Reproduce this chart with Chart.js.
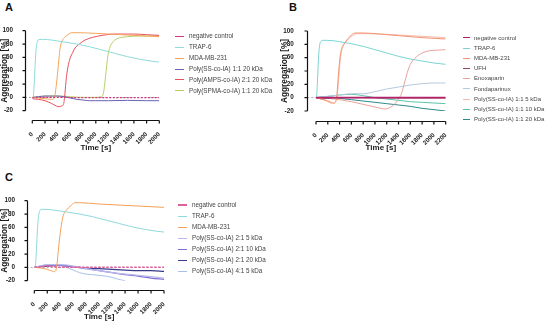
<!DOCTYPE html>
<html>
<head>
<meta charset="utf-8">
<script src="https://cdn.jsdelivr.net/npm/chart.js@4.4.1/dist/chart.umd.min.js"></script>
<style>
html, body { margin: 0; padding: 0; background: #fff; }
body { width: 546px; height: 322px; position: relative; overflow: hidden; font-family: "Liberation Sans", Arial, sans-serif; }
canvas { position: absolute; }
.letter { position: absolute; font-weight: bold; font-size: 11px; color: #111; line-height: 12px; }
.legend-row { position: absolute; white-space: nowrap; font-size: 6.3px; line-height: 8px; height: 8px; color: #444; }
.legend-row .sw { display: inline-block; vertical-align: middle; }
</style>
</head>
<body>
<div class="letter" style="left:5px;top:1px">A</div>
<div class="letter" style="left:289px;top:1px">B</div>
<div class="letter" style="left:5px;top:171px">C</div>
<canvas id="chartA" width="273" height="160" style="left:0;top:0"></canvas>
<canvas id="chartB" width="273" height="160" style="left:273px;top:0"></canvas>
<canvas id="chartC" width="273" height="162" style="left:0;top:160px"></canvas>
<script>
// ---- tick labels ----
const yTicks = [-20, 0, 20, 40, 60, 80, 100];
const xStep = 200;

// ---- Panel A ----
const a_neg_t = [0, 200, 400, 800, 1200, 1600, 2000];
const a_neg_y = [-0.5, 0, 0, -0.5, -0.5, -0.5, -0.5];
const a_trap_t = [0, 15, 30, 45, 60, 75, 90, 120, 180, 300, 500, 700, 900, 1100, 1300, 1500, 1700, 1900, 2000];
const a_trap_y = [0, 1, 20, 50, 72, 82, 86, 87, 87, 86, 83, 80, 76, 71, 66, 61, 57, 54, 53];
const a_mda_t = [0, 100, 200, 300, 340, 360, 380, 400, 420, 440, 470, 510, 560, 620, 700, 1000, 1400, 1800, 2000];
const a_mda_y = [0, -1, -2, -3, -2, 5, 20, 38, 58, 75, 85, 90, 94, 97, 97, 96, 94, 92, 91];
const a_ss_t = [0, 100, 200, 300, 400, 500, 600, 700, 800, 900, 1000, 1200, 1500, 1800, 2000];
const a_ss_y = [0, 1, 2, 2, 2, 1, -1, -3, -4, -5, -5, -5, -4.5, -5, -5];
const a_amps_t = [0, 100, 200, 300, 380, 420, 460, 490, 510, 525, 541, 560, 593, 640, 672, 740, 830, 950, 1100, 1300, 1600, 1800, 2000];
const a_amps_y = [-2, -3, -5, -9, -13, -14, -13, -11, 2, 18, 33, 45, 58, 68, 74, 80, 86, 90, 93, 95, 95, 94, 93];
const a_spma_t = [0, 200, 400, 600, 800, 1000, 1080, 1110, 1130, 1155, 1180, 1200, 1230, 1260, 1300, 1360, 1500, 1700, 2000];
const a_spma_y = [0, 2, 2, 1, 0, 0, 1, 3, 12, 33, 55, 68, 77, 82, 86, 89, 91, 92, 92];

// ---- Panel B ----
const b_neg_t = [0, 400, 800, 1200, 1600, 2000, 2200];
const b_neg_y = [0, 0, 0, 0, 0, 0, 0];
const b_trap_t = [0, 10, 25, 40, 55, 70, 90, 120, 200, 400, 600, 800, 1000, 1200, 1400, 1600, 1800, 2000, 2200];
const b_trap_y = [0, 2, 25, 55, 74, 82, 85, 86, 86, 84, 81, 77, 72, 67, 62, 58, 55, 52, 50];
const b_mda_t = [0, 100, 200, 260, 300, 330, 350, 370, 390, 410, 436, 470, 510, 548, 600, 662, 800, 1000, 1400, 1800, 2200];
const b_mda_y = [0, -2, -5, -7, -8, -6, 0, 22, 45, 62, 74, 80, 85, 89, 94, 97, 97, 96, 93, 90, 88];
const b_ufh_t = [0, 100, 200, 400, 800, 1200, 1600, 2000, 2200];
const b_ufh_y = [0, -2, -1, 0, 0, -0.5, -0.5, -0.5, -0.5];
const b_enox_t = [0, 200, 400, 600, 800, 1000, 1100, 1170, 1250, 1330, 1400, 1450, 1500, 1550, 1600, 1700, 1800, 1900, 2000, 2200];
const b_enox_y = [0, -1, -3, -6, -10, -14, -16, -17, -15, -10, -2, 6, 22, 38, 50, 61, 67, 70, 71, 72];
const b_fonda_t = [0, 200, 400, 600, 800, 1000, 1200, 1400, 1600, 1800, 2000, 2200];
const b_fonda_y = [0, 2, 4, 6, 6, 9, 13, 16, 19, 21, 22, 22];
const b_ss5_t = [0, 100, 200, 280, 320, 350, 370, 390, 410, 430, 460, 500, 550, 620, 700, 900, 1200, 1600, 2000, 2200];
const b_ss5_y = [0, -2, -6, -9, -8, -2, 12, 35, 55, 68, 77, 83, 88, 93, 96, 96, 95, 93, 91, 90];
const b_ss10_t = [0, 200, 400, 600, 800, 1000, 1200, 1400, 1600, 1800, 2000, 2200];
const b_ss10_y = [0, 2, 4, 5, 3, 0, -2, -4, -6, -7, -8, -9];
const b_ss20_t = [0, 200, 400, 600, 800, 1000, 1200, 1400, 1600, 1800, 2000, 2200];
const b_ss20_y = [0, 1, -1, -3, -5, -7, -9, -11, -13, -16, -18, -20];

// ---- Panel C ----
const c_neg_t = [0, 100, 200, 300, 400, 800, 1200, 1600, 2000];
const c_neg_y = [0, 1, 2, 1, 0, 0, 0, 0, 0];
const c_trap_t = [0, 15, 30, 45, 60, 75, 90, 120, 180, 300, 500, 700, 900, 1100, 1300, 1500, 1700, 1900, 2000];
const c_trap_y = [0, 1, 20, 50, 72, 82, 86, 87, 87, 86, 83, 80, 76, 71, 66, 61, 57, 54, 53];
const c_mda_t = [0, 100, 200, 260, 300, 330, 350, 370, 396, 420, 447, 480, 524, 580, 627, 700, 1000, 1400, 1800, 2000];
const c_mda_y = [0, -1, -3, -5, -6.5, -5, 5, 25, 48, 65, 78, 84, 89, 94, 97, 97, 95, 93, 91, 90];
const c_s5_t = [0, 100, 200, 400, 600, 800, 1000, 1200, 1400, 1600, 1800, 2000];
const c_s5_y = [0, 2, 4, 4, 2, -2, -5, -8, -10, -12, -14, -16];
const c_s10_t = [0, 200, 400, 600, 800, 1000, 1200, 1400, 1600, 1800, 2000];
const c_s10_y = [0, 3, 3, 1, -2, -5, -8, -11, -13, -16, -18];
const c_s20_t = [0, 200, 400, 600, 800, 1000, 1200, 1400, 1600, 1800, 2000];
const c_s20_y = [0, 2, 3, 1, -1, -2, -3, -4, -5, -5, -6];
const c_s41_t = [0, 100, 200, 300, 400, 500, 600, 700, 800, 900, 1000, 1100, 1200, 1300, 1400];
const c_s41_y = [0, 2, 4, 4, 3, 0, -4, -8, -10, -11, -12, -13, -15, -18, -20];

const tickFont = { family: 'Liberation Sans', size: 6.3, weight: 'bold' };
const titleFont = { family: 'Liberation Sans', size: 8, weight: 'bold' };
const yTitleFont = { family: 'Liberation Sans', size: 8.3, weight: 'bold' };

function pts(t, y) {
    return t.map((v, i) => ({ x: v, y: y[i] }));
}

function series(label, t, y, color, extra) {
    return Object.assign({
        label: label,
        data: pts(t, y),
        borderColor: color,
        backgroundColor: color,
        borderWidth: 1,
        pointRadius: 0,
        cubicInterpolationMode: 'monotone',
        fill: false,
    }, extra || {});
}

// draws the offset Prism-style axes (lines + tick marks) and the zero baseline
const offsetAxes = {
    id: 'offsetAxes',
    beforeDatasetsDraw(chart, args, opts) {
        const { ctx, scales: { x, y } } = chart;
        const ax = x.getPixelForValue(0) - opts.gapX;
        const y0 = y.getPixelForValue(0);
        ctx.save();
        ctx.strokeStyle = '#999';
        ctx.lineWidth = 0.8;
        ctx.setLineDash([2, 2]);
        ctx.beginPath();
        ctx.moveTo(ax, y0);
        ctx.lineTo(x.getPixelForValue(x.max), y0);
        ctx.stroke();
        ctx.restore();
    },
    afterDraw(chart, args, opts) {
        const { ctx, scales: { x, y } } = chart;
        const ax = Math.round(x.getPixelForValue(0) - opts.gapX) + 0.5;
        const ay = Math.round(y.getPixelForValue(-20) + opts.gapY) + 0.5;
        ctx.save();
        ctx.strokeStyle = '#111';
        ctx.lineWidth = 1.2;
        ctx.beginPath();
        ctx.moveTo(ax, y.getPixelForValue(100));
        ctx.lineTo(ax, y.getPixelForValue(-20));
        y.ticks.forEach(t => {
            const py = y.getPixelForValue(t.value);
            ctx.moveTo(ax - 3, py);
            ctx.lineTo(ax, py);
        });
        ctx.moveTo(x.getPixelForValue(0), ay);
        ctx.lineTo(x.getPixelForValue(x.max), ay);
        x.ticks.forEach(t => {
            const px = x.getPixelForValue(t.value);
            ctx.moveTo(px, ay);
            ctx.lineTo(px, ay + 3);
        });
        ctx.stroke();
        ctx.restore();
    }
};

function makeChart(id, datasets, xMax, box) {
    return new Chart(document.getElementById(id), {
        type: 'line',
        data: { datasets: datasets },
        options: {
            responsive: false,
            animation: false,
            layout: { padding: { left: box.padLeft, top: box.top, right: box.right, bottom: box.padBottom } },
            plugins: {
                legend: { display: false },
                tooltip: { enabled: false },
                offsetAxes: { gapX: box.gapX, gapY: box.gapY },
            },
            scales: {
                x: {
                    type: 'linear',
                    min: 0,
                    max: xMax,
                    afterFit: s => { s.height = box.xh; },
                    ticks: { stepSize: xStep, autoSkip: false, minRotation: 45, maxRotation: 45, padding: box.xPad, font: tickFont, color: '#1a1a1a', callback: v => String(v) },
                    grid: { display: false },
                    border: { display: false },
                    title: { display: true, text: 'Time [s]', font: titleFont, color: '#1a1a1a', padding: 0 },
                },
                y: {
                    type: 'linear',
                    min: yTicks[0],
                    max: yTicks[yTicks.length - 1],
                    afterFit: s => { s.width = box.yw; },
                    afterBuildTicks: s => { s.ticks = yTicks.map(v => ({ value: v })); },
                    ticks: { padding: box.yPad, font: tickFont, color: '#1a1a1a', callback: v => String(v) },
                    grid: { display: false },
                    border: { display: false },
                    title: { display: true, text: 'Aggregation [%]', font: yTitleFont, color: '#1a1a1a', padding: 0 },
                },
            },
        },
        plugins: [offsetAxes],
    });
}

function buildLegend(chart, pos) {
    chart.data.datasets.forEach((ds, i) => {
        const row = document.createElement('div');
        row.className = 'legend-row';
        row.style.left = pos.lineX + 'px';
        row.style.top = (pos.top + i * pos.step - 4) + 'px';
        if (pos.size) row.style.fontSize = pos.size + 'px';
        const sw = document.createElement('span');
        sw.className = 'sw';
        sw.style.width = pos.lineW + 'px';
        sw.style.height = (ds.legendH || 1) + 'px';
        sw.style.background = ds.borderColor;
        sw.style.marginRight = pos.gap + 'px';
        row.appendChild(sw);
        row.appendChild(document.createTextNode(ds.label));
        document.body.appendChild(row);
    });
}

// Panel A
const chartA = makeChart('chartA', [
    series('negative control', a_neg_t, a_neg_y, '#d2387e', { borderDash: [2, 1.5], borderWidth: 1.2 }),
    series('TRAP-6', a_trap_t, a_trap_y, '#8fdada'),
    series('MDA-MB-231', a_mda_t, a_mda_y, '#f5a55a'),
    series('Poly(SS-co-IA) 1:1 20 kDa', a_ss_t, a_ss_y, '#6b63b5'),
    series('Poly(AMPS-co-IA) 2:1 20 kDa', a_amps_t, a_amps_y, '#e8505b'),
    series('Poly(SPMA-co-IA) 1:1 20 kDa', a_spma_t, a_spma_y, '#b5d06a'),
], 2000, { padLeft: 0, top: 30.7, right: 113.7, padBottom: 7, xh: 42.3, yw: 32.3, xPad: 12, yPad: 11.3, gapX: 7.3, gapY: 9.3 });

// Panel B
const chartB = makeChart('chartB', [
    series('negative control', b_neg_t, b_neg_y, '#b3236b', { borderWidth: 1.6 }),
    series('TRAP-6', b_trap_t, b_trap_y, '#7dd3d3'),
    series('MDA-MB-231', b_mda_t, b_mda_y, '#f29572'),
    series('UFH', b_ufh_t, b_ufh_y, '#8a4a5a'),
    series('Enoxaparin', b_enox_t, b_enox_y, '#eaa39a'),
    series('Fondaparinux', b_fonda_t, b_fonda_y, '#b8c8e0'),
    series('Poly(SS-co-IA) 1:1 5 kDa', b_ss5_t, b_ss5_y, '#f7b9a8'),
    series('Poly(SS-co-IA) 1:1 10 kDa', b_ss10_t, b_ss10_y, '#5cc4a8'),
    series('Poly(SS-co-IA) 1:1 20 kDa', b_ss20_t, b_ss20_y, '#2e8a8a'),
], 2200, { padLeft: 7, top: 31, right: 100.3, padBottom: 7, xh: 42, yw: 36, xPad: 12.5, yPad: 14.3, gapX: 8.7, gapY: 10 });

// Panel C
const chartC = makeChart('chartC', [
    series('negative control', c_neg_t, c_neg_y, '#e0609a', { borderDash: [2.5, 1.5], borderWidth: 1.5, legendH: 2 }),
    series('TRAP-6', c_trap_t, c_trap_y, '#8fd8dc'),
    series('MDA-MB-231', c_mda_t, c_mda_y, '#f4a05a'),
    series('Poly(SS-co-IA) 2:1 5 kDa', c_s5_t, c_s5_y, '#b8b8ec', { borderWidth: 1.3 }),
    series('Poly(SS-co-IA) 2:1 10 kDa', c_s10_t, c_s10_y, '#7f70d0', { borderWidth: 1.3, legendH: 1.5 }),
    series('Poly(SS-co-IA) 2:1 20 kDa', c_s20_t, c_s20_y, '#3a3a8a', { borderWidth: 1.2 }),
    series('Poly(SS-co-IA) 4:1 5 kDa', c_s41_t, c_s41_y, '#a8c0e8'),
], 2000, { padLeft: 0, top: 40.7, right: 109, padBottom: 0, xh: 41.3, yw: 34.3, xPad: 12, yPad: 11.3, gapX: 7.6, gapY: 9.3 });

buildLegend(chartA, { lineX: 175, top: 36, step: 10.9, lineW: 9, gap: 5 });
buildLegend(chartB, { lineX: 463, top: 37.5, step: 10.2, lineW: 7, gap: 4, size: 6 });
buildLegend(chartC, { lineX: 178, top: 205, step: 11, lineW: 9, gap: 5 });
</script>
</body>
</html>
